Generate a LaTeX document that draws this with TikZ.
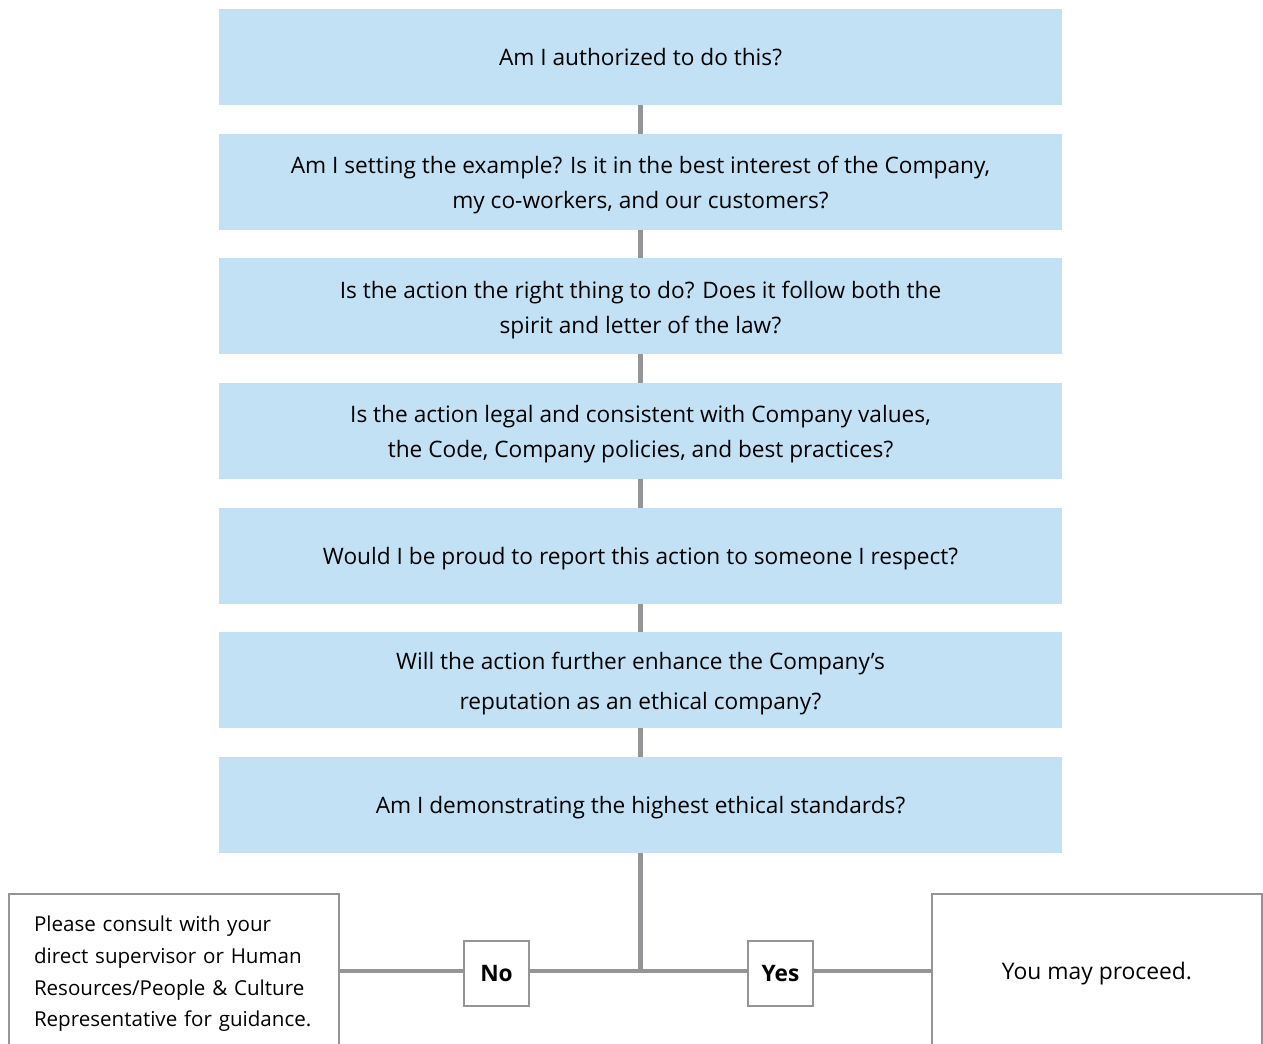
\documentclass[tikz,border=0pt]{standalone}
\usepackage{fontspec}
\setmainfont{Open Sans}
\usetikzlibrary{positioning}
\definecolor{qblue}{RGB}{194,225,245}
\definecolor{lgray}{RGB}{147,149,152}
\tikzstyle{question} = [rectangle, fill=qblue, minimum width=16.86cm, minimum height=1.92cm, inner sep=0pt, outer sep=0pt, text centered, align=center, font=\fontsize{12.9}{19.8}\selectfont]
\tikzstyle{outcome}  = [rectangle, draw=lgray, line width=1.1pt, fill=white, minimum width=6.6cm, minimum height=3.08cm, font=\fontsize{13}{18}\selectfont]
\tikzstyle{answer}   = [rectangle, draw=lgray, line width=1.1pt, fill=white, minimum size=1.3cm, inner sep=0pt, font=\fontsize{12.9}{15}\selectfont\bfseries]
\tikzstyle{link}     = [draw=lgray, line width=2.8pt]

\begin{document}
\begin{tikzpicture}[node distance=0.573cm]
    \useasboundingbox (0,0) rectangle (25.26,-20.88);
    \clip (0,0) rectangle (25.26,-20.88);

    \node[question] (q1) at (12.81,-1.14) {Am I authorized to do this?};
    \node[question, below=of q1] (q2) {\\[-6pt]Am I setting the example? Is it in the best interest of the Company,\\ my co-workers, and our customers?};
    \node[question, below=of q2] (q3) {\\[-6pt]Is the action the right thing to do? Does it follow both the\\ spirit and letter of the law?};
    \node[question, below=of q3] (q4) {\\[-6pt]Is the action legal and consistent with Company values,\\ the Code, Company policies, and best practices?};
    \node[question, below=of q4, text depth=0pt] (q5) {Would I be proud to report this action to someone I respect?};
    \node[question, below=of q5] (q6) {\\[-6pt]Will the action further enhance the Company's\\[3pt] reputation as an ethical company?};
    \node[question, below=of q6, text depth=0pt] (q7) {Am I demonstrating the highest ethical standards?};

    \coordinate (join) at (q7.center |- 0,-19.42);
    \node[outcome, text width=5.6cm, align=left, font=\fontsize{11.7}{18.1}\selectfont] (consult) at (3.48,-19.42)
        {\\[-6pt]Please consult with your\\ direct supervisor or Human\\ Resources/People \& Culture\\ Representative for guidance.};
    \node[outcome, text depth=0pt] (proceed) at (21.94,-19.42) {You may proceed.};
    \node[answer] (no) at (9.93,-19.47) {No};
    \node[answer] (yes) at (15.61,-19.47) {Yes};

    \foreach \a/\b in {q1/q2, q2/q3, q3/q4, q4/q5, q5/q6, q6/q7}
        \draw[link] (\a) -- (\b);
    \draw[link] (q7) -- ([yshift=-1.4pt]join);
    \draw[link] (consult) -- (consult -| no.west);
    \draw[link] (no.east |- join) -- (yes.west |- join);
    \draw[link] (yes.east |- join) -- (proceed);
\end{tikzpicture}
\end{document}
